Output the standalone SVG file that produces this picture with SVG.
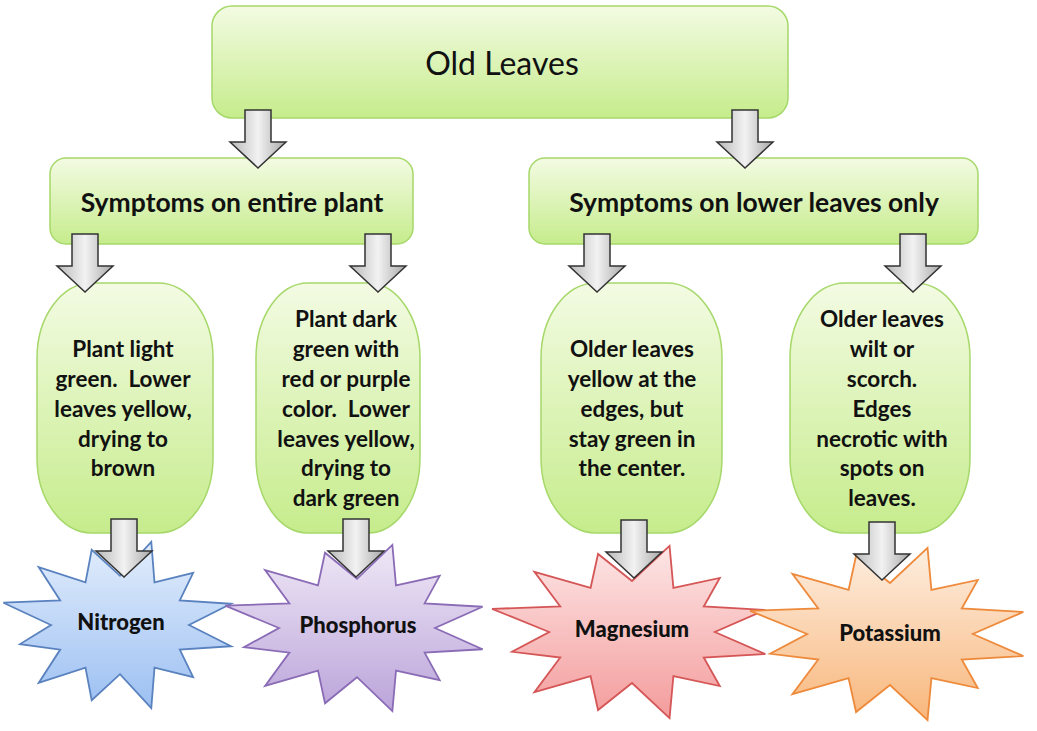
<svg xmlns="http://www.w3.org/2000/svg" xmlns:xlink="http://www.w3.org/1999/xlink" width="1037" height="731" viewBox="0 0 1037 731">
<defs>
<linearGradient id="g" x1="0" y1="0" x2="0" y2="1"><stop offset="0" stop-color="#f3fbe3"/><stop offset="1" stop-color="#c6ec8c"/></linearGradient>
<linearGradient id="ga" x1="0" y1="0" x2="1" y2="0"><stop offset="0" stop-color="#b8b8b8"/><stop offset="0.5" stop-color="#f2f2f2"/><stop offset="1" stop-color="#a8a8a8"/></linearGradient>
<linearGradient id="gb" x1="0" y1="0" x2="0" y2="1"><stop offset="0" stop-color="#e2edfc"/><stop offset="1" stop-color="#9cc0f2"/></linearGradient>
<linearGradient id="gp" x1="0" y1="0" x2="0" y2="1"><stop offset="0" stop-color="#efe8f6"/><stop offset="1" stop-color="#bba4da"/></linearGradient>
<linearGradient id="gr" x1="0" y1="0" x2="0" y2="1"><stop offset="0" stop-color="#fde6e6"/><stop offset="1" stop-color="#f49c9c"/></linearGradient>
<linearGradient id="go" x1="0" y1="0" x2="0" y2="1"><stop offset="0" stop-color="#fdeee0"/><stop offset="1" stop-color="#f8b77c"/></linearGradient>
<path id="star" vector-effect="non-scaling-stroke" d="M.6,0 L.966,.259 .52,.3 .636,.636 .3,.52 .272,1.014 0,.6 -.246,.918 -.3,.52 -.707,.707 -.52,.3 -.869,.233 -.6,0 -1.014,-.272 -.52,-.3 -.707,-.707 -.3,-.52 -.246,-.918 0,-.6 .272,-1.014 .3,-.52 .636,-.636 .52,-.3 .966,-.259 Z"/>
<path id="arr" d="M-13,0 H13 V32 H28 L0,58 L-28,32 H-13 Z"/>
</defs>
<style>
.box{fill:url(#g);stroke:#a6d86a;stroke-width:1.5}
.t{font-family:Lato,"Open Sans",sans-serif;font-weight:bold;fill:#111;text-anchor:middle}
.b{font-size:22.5px}
.st{font-size:22px;font-weight:900}
.a{fill:url(#ga);stroke:#333;stroke-width:1.5}
.s{stroke-width:1.8}
</style>
<g id="old"><rect class="box" x="212" y="6" width="576" height="112" rx="20"/><text class="t" x="502" y="75" style="font-size:32px;font-weight:normal">Old Leaves</text></g>
<g id="entire"><rect class="box" x="50" y="158" width="363" height="86" rx="16"/><text class="t" x="232" y="212" font-size="26.5">Symptoms on entire plant</text></g>
<g id="lower"><rect class="box" x="529" y="158" width="449" height="86" rx="16"/><text class="t" x="754" y="212" font-size="26.5">Symptoms on lower leaves only</text></g>
<g id="b1"><rect class="box" x="37" y="283" width="176" height="250" rx="55" ry="75"/><text class="t b"><tspan x="123" y="357">Plant light</tspan><tspan x="123" y="387">green.&#160; Lower</tspan><tspan x="123" y="417">leaves yellow,</tspan><tspan x="123" y="447">drying to</tspan><tspan x="123" y="476">brown</tspan></text></g>
<g id="b2"><rect class="box" x="256" y="283" width="164" height="250" rx="52" ry="75"/><text class="t b"><tspan x="346" y="327">Plant dark</tspan><tspan x="346" y="357">green with</tspan><tspan x="346" y="387">red or purple</tspan><tspan x="346" y="417">color.&#160; Lower</tspan><tspan x="346" y="447">leaves yellow,</tspan><tspan x="346" y="476">drying to</tspan><tspan x="346" y="506">dark green</tspan></text></g>
<g id="b3"><rect class="box" x="541" y="283" width="181" height="250" rx="55" ry="75"/><text class="t b"><tspan x="632" y="357">Older leaves</tspan><tspan x="632" y="387">yellow at the</tspan><tspan x="632" y="417">edges, but</tspan><tspan x="632" y="447">stay green in</tspan><tspan x="632" y="476">the center.</tspan></text></g>
<g id="b4"><rect class="box" x="790" y="283" width="180" height="250" rx="55" ry="75"/><text class="t b"><tspan x="882" y="327">Older leaves</tspan><tspan x="882" y="357">wilt or</tspan><tspan x="882" y="387">scorch.</tspan><tspan x="882" y="417">Edges</tspan><tspan x="882" y="447">necrotic with</tspan><tspan x="882" y="476">spots on</tspan><tspan x="882" y="506">leaves.</tspan></text></g>
<g id="nitrogen"><use href="#star" class="s" fill="url(#gb)" stroke="#5a82bf" transform="translate(120,625) scale(115,82)"/><text class="t st" x="121" y="630">Nitrogen</text></g>
<g id="phosphorus"><use href="#star" class="s" fill="url(#gp)" stroke="#8a6bb5" transform="translate(357,628) scale(130,82)"/><text class="t st" x="358" y="633">Phosphorus</text></g>
<g id="magnesium"><use href="#star" class="s" fill="url(#gr)" stroke="#d55656" transform="translate(632,632) scale(138,85)"/><text class="t st" x="632" y="637">Magnesium</text></g>
<g id="potassium"><use href="#star" class="s" fill="url(#go)" stroke="#ee8a3c" transform="translate(890,634) scale(138,85)"/><text class="t st" x="890" y="641">Potassium</text></g>
<g id="connectors">
<use href="#arr" class="a" x="258" y="110"/>
<use href="#arr" class="a" x="745" y="110"/>
<use href="#arr" class="a" x="85" y="234"/>
<use href="#arr" class="a" x="378" y="234"/>
<use href="#arr" class="a" x="597" y="234"/>
<use href="#arr" class="a" x="913" y="234"/>
<use href="#arr" class="a" x="124" y="519"/>
<use href="#arr" class="a" x="356" y="519"/>
<use href="#arr" class="a" x="634" y="520"/>
<use href="#arr" class="a" x="882" y="522"/>
</g>
</svg>
